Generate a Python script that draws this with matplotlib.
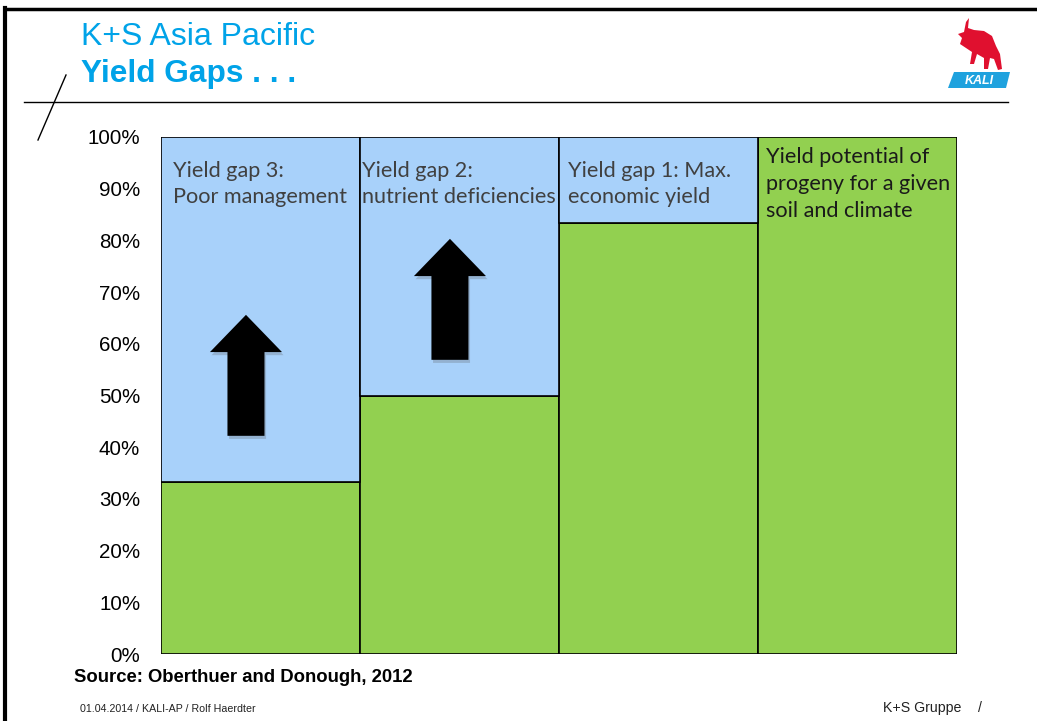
import matplotlib
matplotlib.use("Agg")
import matplotlib.pyplot as plt
import matplotlib.patches as mpatches
from matplotlib.lines import Line2D

# --- data -------------------------------------------------------------
categories = ["Yield gap 3", "Yield gap 2", "Yield gap 1", "Yield potential"]
achieved = [33.3, 50.0, 83.3, 100.0]        # green part, % of potential
potential = [100.0, 100.0, 100.0, 100.0]    # top of each column
box_labels = [
    "Yield gap 3:\nPoor management",
    "Yield gap 2:\nnutrient deficiencies",
    "Yield gap 1: Max.\neconomic yield",
    "Yield potential of\nprogeny for a given\nsoil and climate",
]
# improvement arrows: (column, start %, end %)
arrow_col = [0, 1]
arrow_start = [42.2, 56.9]
arrow_end = [65.6, 80.3]
yticks = list(range(0, 101, 10))
ytick_labels = [f"{v}%" for v in yticks]

W, H = 1037, 721
GREEN = "#92D050"
BLUE = "#A8D1FA"
TITLE_BLUE = "#00A3E8"
SANS = ["Liberation Sans", "DejaVu Sans"]
BOXFONT = ["Lato", "DejaVu Sans"]

fig = plt.figure(figsize=(W / 100, H / 100), dpi=100)
fig.patch.set_facecolor("white")


def fx(x):
    return x / W


def fy(y):
    return 1 - y / H


# --- slide frame and header lines ---------------------------------------
fig.add_artist(Line2D([fx(5), fx(5)], [fy(8), fy(721)], color="black", lw=3))
fig.add_artist(Line2D([fx(5), fx(1035)], [fy(9), fy(9)], color="black", lw=2.5))
fig.add_artist(Line2D([fx(24), fx(1008)], [fy(102), fy(102)], color="black", lw=1))
fig.add_artist(Line2D([fx(38), fx(66)], [fy(140), fy(75)], color="black", lw=1))

fig.text(fx(81), fy(37), "K+S Asia Pacific", color=TITLE_BLUE, fontsize=23,
         family=SANS, va="center", ha="left")
fig.text(fx(81), fy(74), "Yield Gaps . . .", color=TITLE_BLUE, fontsize=22.8,
         family=SANS, weight="bold", va="center", ha="left")

# --- logo ------------------------------------------------------------------
lg = fig.add_axes([fx(944), fy(92), fx(1012) - fx(944), fy(14) - fy(92)])
lg.set_xlim(0, 68)
lg.set_ylim(78, 0)
lg.axis("off")
bull = [(22, 8), (25, 4), (24, 14), (30, 16), (40, 17), (48, 22), (52, 32),
        (56, 40), (58, 55), (54, 56), (50, 45), (46, 44), (44, 55), (40, 55),
        (40, 44), (33, 40), (30, 50), (26, 50), (28, 38), (22, 34), (16, 30),
        (18, 24), (14, 20), (20, 18)]
lg.add_patch(mpatches.Polygon(bull, closed=True, color="#E0102F", lw=0))
lg.add_patch(mpatches.Polygon([(10, 58), (66, 58), (62, 74), (4, 74)],
                              closed=True, color="#1FA2DE", lw=0))
lg.text(35, 66.5, "KALI", color="white", fontsize=9, weight="bold",
        style="italic", family=SANS, ha="center", va="center")

# --- chart -----------------------------------------------------------------
ax = fig.add_axes([fx(161), fy(654), fx(957) - fx(161), fy(137) - fy(654)])
x = list(range(len(categories)))
gaps = [p - a for p, a in zip(potential, achieved)]
ax.bar(x, achieved, width=1.0, color=GREEN, edgecolor="black", linewidth=1.2,
       zorder=2)
for xi, a, g in zip(x, achieved, gaps):
    if g > 0:
        ax.bar(xi, g, bottom=a, width=1.0, color=BLUE, edgecolor="black",
               linewidth=1.2, zorder=2)

ax.set_xlim(-0.5, len(categories) - 0.5)
ax.set_ylim(0, 100)
ax.set_yticks(yticks)
ax.set_yticklabels(ytick_labels, family=SANS, fontsize=14.8)
ax.tick_params(axis="y", length=0, pad=15)
ax.set_xticks([])
for s in ax.spines.values():
    s.set_visible(False)

# labels inside the columns
text_dx = [0.06, 0.01, 0.045, 0.04]
for xi, lab, dx in zip(x, box_labels, text_dx):
    if lab.count("\n") == 2:
        ax.text(xi - 0.5 + dx, 98.0, lab, ha="left", va="top", fontsize=15.6,
                family=BOXFONT, color="#1a1a1a", linespacing=1.42, zorder=3)
    else:
        ax.text(xi - 0.5 + dx, 95.3, lab, ha="left", va="top", fontsize=15.6,
                family=BOXFONT, color="#404040", linespacing=1.38, zorder=3)

# improvement arrows
arrow_dx = [-0.073, -0.048]
for c, s, e, dx in zip(arrow_col, arrow_start, arrow_end, arrow_dx):
    for off, col in [((0.008, -0.6), "#7f93a8"), ((0, 0), "black")]:
        ax.add_patch(mpatches.FancyArrow(
            c + dx + off[0], s + off[1], 0, e - s, width=0.186,
            head_width=0.362, head_length=7.2, length_includes_head=True,
            color=col, lw=0, zorder=4 if col == "black" else 3,
            alpha=1 if col == "black" else 0.5))

# --- footer ----------------------------------------------------------------
fig.text(fx(74), fy(678), "Source: Oberthuer and Donough, 2012", family=SANS,
         fontsize=13.3, weight="bold", va="center", ha="left")
fig.text(fx(80), fy(709), "01.04.2014 / KALI-AP / Rolf Haerdter", family=SANS,
         fontsize=7.7, va="center", ha="left", color="#222222")
fig.text(fx(883), fy(708), "K+S Gruppe", family=SANS, fontsize=10.2,
         va="center", ha="left", color="#222222")
fig.text(fx(978), fy(708), "/", family=SANS, fontsize=10.2,
         va="center", ha="left", color="#222222")

fig.savefig("out.png", dpi=100)
